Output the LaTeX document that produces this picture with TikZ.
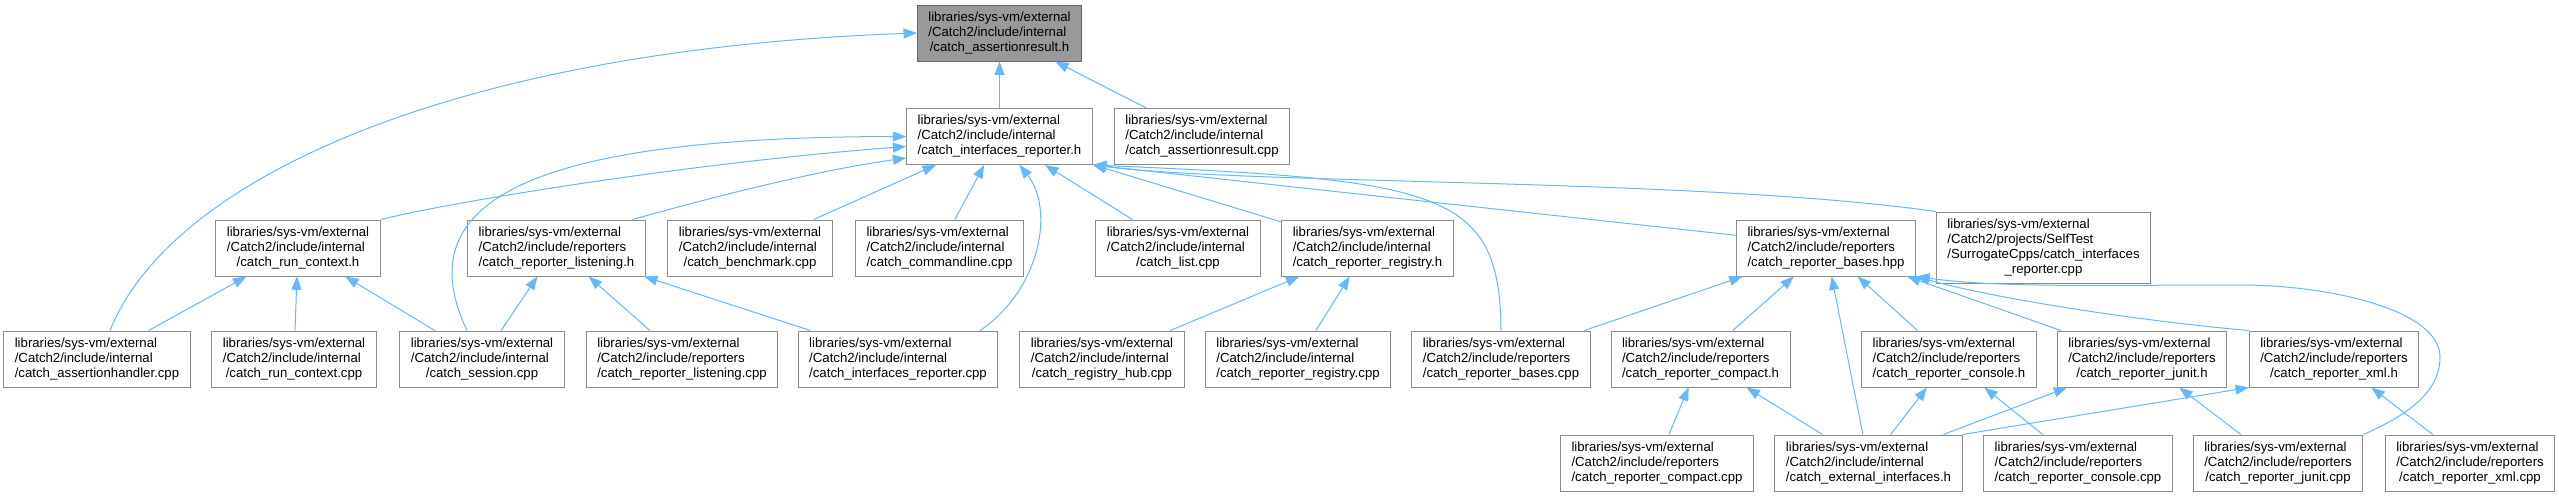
\documentclass[tikz,border=0pt]{standalone}
\usepackage{fontspec}
\setmainfont{Liberation Sans}
\usepackage{tikz}
\usetikzlibrary{arrows.meta,calc}
\definecolor{edgeblue}{HTML}{63B8FF}
\definecolor{nodeline}{HTML}{8C8C8C}
\definecolor{rootfill}{HTML}{999999}
\definecolor{rootline}{HTML}{666666}
\newcommand{\flab}[2]{\begin{tabular}{@{}l@{}}libraries/sys-vm/external\\/Catch2/include/#1\\\multicolumn{1}{@{}c@{}}{/#2}\end{tabular}}
\begin{document}
\begin{tikzpicture}[
  x=0.75pt, y=-0.75pt,
  every node/.style={font=\fontsize{9.9pt}{11.25pt}\selectfont},
  file/.style={rectangle, draw=nodeline, fill=white, line width=0.75pt,
    inner xsep=8.25pt, inner ysep=0pt, minimum height=42pt},
  root/.style={file, draw=rootline, fill=rootfill},
  dep/.style={draw=edgeblue, line width=0.75pt, -{Triangle[length=10pt,width=7.5pt]}}
]
  \useasboundingbox (0,0) rectangle (2559,496);

  \node[root] (res) at (999.5,33) {\flab{internal}{catch\_assertionresult.h}};

  \node[file] (irep) at (999.5,136.5) {\flab{internal}{catch\_interfaces\_reporter.h}};
  \node[file] (resc) at (1202,136.5) {\flab{internal}{catch\_assertionresult.cpp}};

  \node[file] (rch) at (298,248) {\flab{internal}{catch\_run\_context.h}};
  \node[file] (lsh) at (556.5,248) {\flab{reporters}{catch\_reporter\_listening.h}};
  \node[file] (bench) at (750,248) {\flab{internal}{catch\_benchmark.cpp}};
  \node[file] (cmdl) at (939.5,248) {\flab{internal}{catch\_commandline.cpp}};
  \node[file] (list) at (1178,248) {\flab{internal}{catch\_list.cpp}};
  \node[file] (regh) at (1367.5,248) {\flab{internal}{catch\_reporter\_registry.h}};
  \node[file] (bhpp) at (1826,248) {\flab{reporters}{catch\_reporter\_bases.hpp}};
  \node[file, minimum height=53.25pt] (stcpp) at (2043.5,247.5)
      {\begin{tabular}{@{}l@{}}libraries/sys-vm/external\\/Catch2/projects/SelfTest\\/SurrogateCpps/catch\_interfaces\\\multicolumn{1}{@{}c@{}}{\_reporter.cpp}\end{tabular}};

  \node[file] (ahcpp) at (97,359) {\flab{internal}{catch\_assertionhandler.cpp}};
  \node[file] (rccpp) at (294,359) {\flab{internal}{catch\_run\_context.cpp}};
  \node[file] (sess) at (482,359) {\flab{internal}{catch\_session.cpp}};
  \node[file] (lscpp) at (682,359) {\flab{reporters}{catch\_reporter\_listening.cpp}};
  \node[file] (ircpp) at (898,359) {\flab{internal}{catch\_interfaces\_reporter.cpp}};
  \node[file] (hub) at (1102,359) {\flab{internal}{catch\_registry\_hub.cpp}};
  \node[file] (regcpp) at (1298,359) {\flab{internal}{catch\_reporter\_registry.cpp}};
  \node[file] (bcpp) at (1501,359) {\flab{reporters}{catch\_reporter\_bases.cpp}};
  \node[file] (cmph) at (1700.5,359) {\flab{reporters}{catch\_reporter\_compact.h}};
  \node[file] (conh) at (1949,359) {\flab{reporters}{catch\_reporter\_console.h}};
  \node[file] (junh) at (2142,359) {\flab{reporters}{catch\_reporter\_junit.h}};
  \node[file] (xmlh) at (2334,359) {\flab{reporters}{catch\_reporter\_xml.h}};

  \node[file] (cmpcpp) at (1657,463) {\flab{reporters}{catch\_reporter\_compact.cpp}};
  \node[file] (extif) at (1868.5,463) {\flab{internal}{catch\_external\_interfaces.h}};
  \node[file] (concpp) at (2078,463) {\flab{reporters}{catch\_reporter\_console.cpp}};
  \node[file] (juncpp) at (2278,463) {\flab{reporters}{catch\_reporter\_junit.cpp}};
  \node[file] (xmlcpp) at (2470,463) {\flab{reporters}{catch\_reporter\_xml.cpp}};

  \draw[dep] (irep) -- (res);
  \draw[dep] (resc) -- (res);
  \draw[dep] ($(ahcpp.north)+(13,0)$) .. controls (170,180) and (450,50) .. (res.west);

  \draw[dep] (rch.north east) .. controls (460,200) and (700,162) .. ($(irep.west)+(0,10)$);
  \draw[dep] ($(sess.north)+(-15,0)$) .. controls (400,190) and (560,137) .. (irep.west);
  \draw[dep] ($(lsh.north)+(76,0)$) .. controls (720,195) and (820,170) .. ($(irep.south west)+(0,-7)$);
  \draw[dep] (bench) -- (irep);
  \draw[dep] (cmdl) -- (irep);
  \draw[dep] ($(ircpp.north)+(82,0)$) .. controls (1040,290) and (1055,210) .. ($(irep.south)+(20,0)$);
  \draw[dep] (list) -- (irep);
  \draw[dep] (regh) -- (irep);
  \draw[dep] (bhpp.172) -- (irep.south east);
  \draw[dep] (stcpp.north west) .. controls (1700,178) and (1250,185) .. (irep.south east);
  \draw[dep] (bcpp.north) .. controls (1500,190) and (1440,180) .. (irep.south east);

  \draw[dep] (ahcpp) -- (rch);
  \draw[dep] (rccpp) -- (rch);
  \draw[dep] (sess) -- (rch);
  \draw[dep] (sess) -- (lsh);
  \draw[dep] (lscpp) -- (lsh);
  \draw[dep] (ircpp) -- (lsh);
  \draw[dep] (hub) -- (regh);
  \draw[dep] (regcpp) -- (regh);
  \draw[dep] (bcpp) -- (bhpp);
  \draw[dep] (cmph) -- (bhpp);
  \draw[dep] (extif) -- (bhpp);
  \draw[dep] (conh) -- (bhpp);
  \draw[dep] (junh) -- (bhpp);
  \draw[dep] (xmlh.north west) .. controls (2150,322) and (2000,300) .. (bhpp.south east);
  \draw[dep] (juncpp.north east) .. controls (2420,410) and (2440,385) .. (2440,357)
      .. controls (2440,310) and (2330,285) .. (2240,285)
      .. controls (2100,285) and (2000,288) .. (bhpp.south east);

  \draw[dep] (cmpcpp) -- (cmph);
  \draw[dep] (extif) -- (cmph);
  \draw[dep] (extif) -- (conh);
  \draw[dep] (extif) -- (junh);
  \draw[dep] (extif.north east) -- (xmlh.south west);
  \draw[dep] (concpp) -- (conh);
  \draw[dep] (juncpp) -- (junh);
  \draw[dep] (xmlcpp) -- (xmlh);
\end{tikzpicture}
\end{document}
